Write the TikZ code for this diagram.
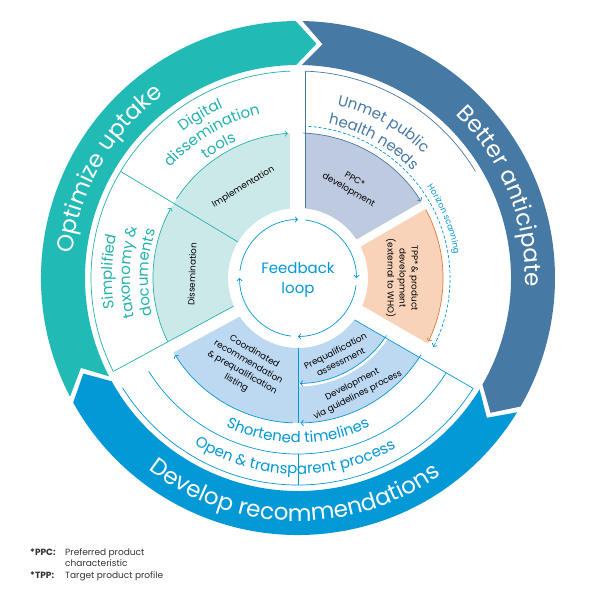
\documentclass[tikz,border=0pt]{standalone}
\usepackage{fontspec}
\setmainfont{Poppins}
\usetikzlibrary{arrows.meta,decorations.text}

\newcommand\bigring{\fontsize{23}{23}\selectfont}
\newcommand\midring{\fontsize{15}{15}\selectfont}
\newcommand\smallwedge{\fontsize{8.8}{12}\selectfont}

\begin{document}
\begin{tikzpicture}[x=1pt,y=1pt,
    flow/.style={line width=0.7pt,-{Straight Barb[length=2.5pt,width=5.5pt]}},
    rim/.style={line width=0.7pt},
    ringtext/.style={decorate,decoration={text along path,text align=center,
        text color=white,text={|\bigring|#1}}},
    midtext/.style 2 args={decorate,decoration={text along path,text align=center,
        text color=#1,text={|\midring|#2}}},
    wedgetext/.style={font=\smallwedge,align=center,text=black,inner sep=0pt},
    foot/.style={font=\fontsize{9}{11}\selectfont,text=black!80,anchor=base west,inner sep=0pt}]

    % Changing colors
    \definecolor{ringteal}{RGB}{33,186,180}%
    \definecolor{ringsteel}{RGB}{71,121,165}%
    \definecolor{ringblue}{RGB}{3,152,214}%
    \definecolor{wteal}{RGB}{204,233,233}%
    \definecolor{wppc}{RGB}{190,202,224}%
    \definecolor{wtpp}{RGB}{248,211,185}%
    \definecolor{wblue}{RGB}{189,216,241}%
    \definecolor{lteal}{RGB}{35,178,172}%
    \definecolor{corange}{RGB}{226,120,60}%

    % Page frame
    \fill[white] (-298,-312) rectangle (297,278);
    \useasboundingbox (-298,-312) rectangle (297,278);

    % Outer ring: Optimize uptake
    \fill[ringteal] (207.5:257) arc[start angle=207.5,end angle=90.5,radius=257] -- (85.5:235)
        -- (90.5:213) arc[start angle=90.5,end angle=207.5,radius=213] -- (202.5:235) -- cycle;
    % Outer ring: Better anticipate
    \fill[ringsteel] (89:257) arc[start angle=89,end angle=-30,radius=257] -- (-35:235)
        -- (-30:213) arc[start angle=-30,end angle=89,radius=213] -- (84:235) -- cycle;
    % Outer ring: Develop recommendations
    \fill[ringblue] (-31.5:257) arc[start angle=-31.5,end angle=-151,radius=257] -- (-156:235)
        -- (-151:213) arc[start angle=-151,end angle=-31.5,radius=213] -- (-36.5:235) -- cycle;

    \path[ringtext={Optimize uptake}] (200:227) arc[start angle=200,end angle=100,radius=227];
    \path[ringtext={Better anticipate}] (72:227) arc[start angle=72,end angle=-28,radius=227];
    \path[ringtext={Develop recommendations}] (199:243) arc[start angle=199,end angle=339,radius=243];

    % Inner wedges
    \fill[wteal] (90:70) arc[start angle=90,end angle=149,radius=70] -- (149:145) arc[start angle=149,end angle=90,radius=145] -- cycle;
    \fill[wteal] (149:70) arc[start angle=149,end angle=208.5,radius=70] -- (208.5:145) arc[start angle=208.5,end angle=149,radius=145] -- cycle;
    \fill[wblue] (208.5:70) arc[start angle=208.5,end angle=270,radius=70] -- (270:145) arc[start angle=270,end angle=208.5,radius=145] -- cycle;
    \fill[wblue] (270:70) arc[start angle=270,end angle=330,radius=70] -- (330:145) arc[start angle=330,end angle=270,radius=145] -- cycle;
    \fill[wtpp] (-30:70) arc[start angle=-30,end angle=30,radius=70] -- (30:145) arc[start angle=30,end angle=-30,radius=145] -- cycle;
    \fill[wppc] (30:70) arc[start angle=30,end angle=90,radius=70] -- (90:145) arc[start angle=90,end angle=30,radius=145] -- cycle;

    % White gaps between wedges
    \draw[white,line width=15pt] (90:60) -- (90:150);
    \draw[white,line width=8pt] (30:60) -- (30:150);
    \draw[white,line width=16pt] (-30:60) -- (-30:150);
    \draw[white,line width=12pt] (208.5:60) -- (208.5:150);
    \draw[white,line width=3pt] (-90:107) arc[start angle=-90,end angle=-30,radius=107];

    % Segment outlines
    \draw[rim,lteal] (149:70) -- (149:207);
    \draw[rim,lteal] ([shift={(118.5:6)}]208.5:70) -- ([shift={(118.5:6)}]208.5:207);
    \draw[rim,lteal] (92.1:207) arc[start angle=92.1,end angle=206.8,radius=207];
    \draw[rim,ringsteel] ([xshift=7.5pt]90:70) -- ([xshift=7.5pt]90:207);
    \draw[rim,ringsteel] (87.9:207) arc[start angle=87.9,end angle=31,radius=207];
    \draw[rim,ringblue] ([shift={(-120:8)}]-30:70) -- ([shift={(-120:8)}]-30:207);
    \draw[rim,ringblue] (-32.2:207) arc[start angle=-32.2,end angle=-148,radius=207];
    \draw[rim,ringblue] (-32.6:176) arc[start angle=-32.6,end angle=-148,radius=176];
    \draw[rim,ringblue] (270:70) -- (270:145);
    \draw[rim,ringblue] (270:176) -- (270:207);

    % Wedge arrows
    \draw[flow,lteal] (147:145) arc[start angle=147,end angle=94,radius=145];
    \draw[flow,lteal] (206:145) arc[start angle=206,end angle=151,radius=145];
    \draw[flow,ringsteel] (88:145) arc[start angle=88,end angle=32,radius=145];
    \draw[flow,corange] (28:145) arc[start angle=28,end angle=-26,radius=145];
    \draw[flow,ringblue] (268:145) arc[start angle=268,end angle=212,radius=145];
    \draw[flow,ringblue] (-32:145) arc[start angle=-32,end angle=-89,radius=145];
    \draw[flow,ringblue] (-33:105.5) arc[start angle=-33,end angle=-89,radius=105.5];

    % Horizon scanning
    \draw[flow,ringblue,dash pattern=on 3pt off 2pt] (86:152) arc[start angle=86,end angle=-27,radius=152];
    \path[decorate,decoration={text along path,text align=center,text color=ringblue,
        text={|\fontsize{8.5}{8.5}\selectfont|Horizon scanning}}] (62:158) arc[start angle=62,end angle=-18,radius=158];

    % Feedback loop
    \foreach \a in {0,90,180,270}
        \draw[flow,ringblue] ({\a+173}:58.5) arc[start angle=\a+173,end angle=\a+90,radius=58.5];
    \node[text=ringblue,font=\fontsize{15}{20}\selectfont,align=center] (loop) at (0,-2) {Feedback\\loop};

    % Middle ring labels
    \path[midtext={lteal}{Digital}] (161:186) arc[start angle=161,end angle=81,radius=186];
    \path[midtext={lteal}{dissemination}] (161:168) arc[start angle=161,end angle=81,radius=168];
    \path[midtext={lteal}{tools}] (161:150) arc[start angle=161,end angle=81,radius=150];
    \path[midtext={lteal}{Simplified}] (218:186) arc[start angle=218,end angle=138,radius=186];
    \path[midtext={lteal}{taxonomy {\&}}] (218:168) arc[start angle=218,end angle=138,radius=168];
    \path[midtext={lteal}{documents}] (218:150) arc[start angle=218,end angle=138,radius=150];
    \path[midtext={ringsteel}{Unmet public}] (101:177) arc[start angle=101,end angle=21,radius=177];
    \path[midtext={ringsteel}{health needs}] (101:157) arc[start angle=101,end angle=21,radius=157];
    \path[midtext={ringblue}{Shortened timelines}] (230:165) arc[start angle=230,end angle=310,radius=165];
    \path[midtext={ringblue}{Open {\&} transparent process}] (224:196) arc[start angle=224,end angle=314,radius=196];

    % Wedge labels
    \node[wedgetext,rotate=31] (impl) at (121:106) {Implementation};
    \node[wedgetext,rotate=88] (diss) at (178:106) {Dissemination};
    \node[wedgetext,rotate=-30] (ppc) at (60:107) {PPC*\\development};
    \node[wedgetext,rotate=-90] (tpp) at (0:104) {TPP* \& product\\development\\(external to WHO)};
    \node[wedgetext,rotate=-30] (coord) at (239.5:104) {Coordinated\\recommendation\\\& prequalification\\listing};
    \node[wedgetext,rotate=27] (preq) at (-63:88) {Prequalification\\assessment};
    \node[wedgetext,rotate=27] (devg) at (-63:126) {Development\\via guidelines process};

    % Footnote
    \node[foot] (ppckey) at (-268,-277) {\bfseries *PPC:};
    \node[foot] (ppcdef) at (-233,-277) {Preferred product};
    \node[foot] (ppcdef2) at (-233,-288) {characteristic};
    \node[foot] (tppkey) at (-268,-300) {\bfseries *TPP:};
    \node[foot] (tppdef) at (-233,-300) {Target product profile};
\end{tikzpicture}
\end{document}
